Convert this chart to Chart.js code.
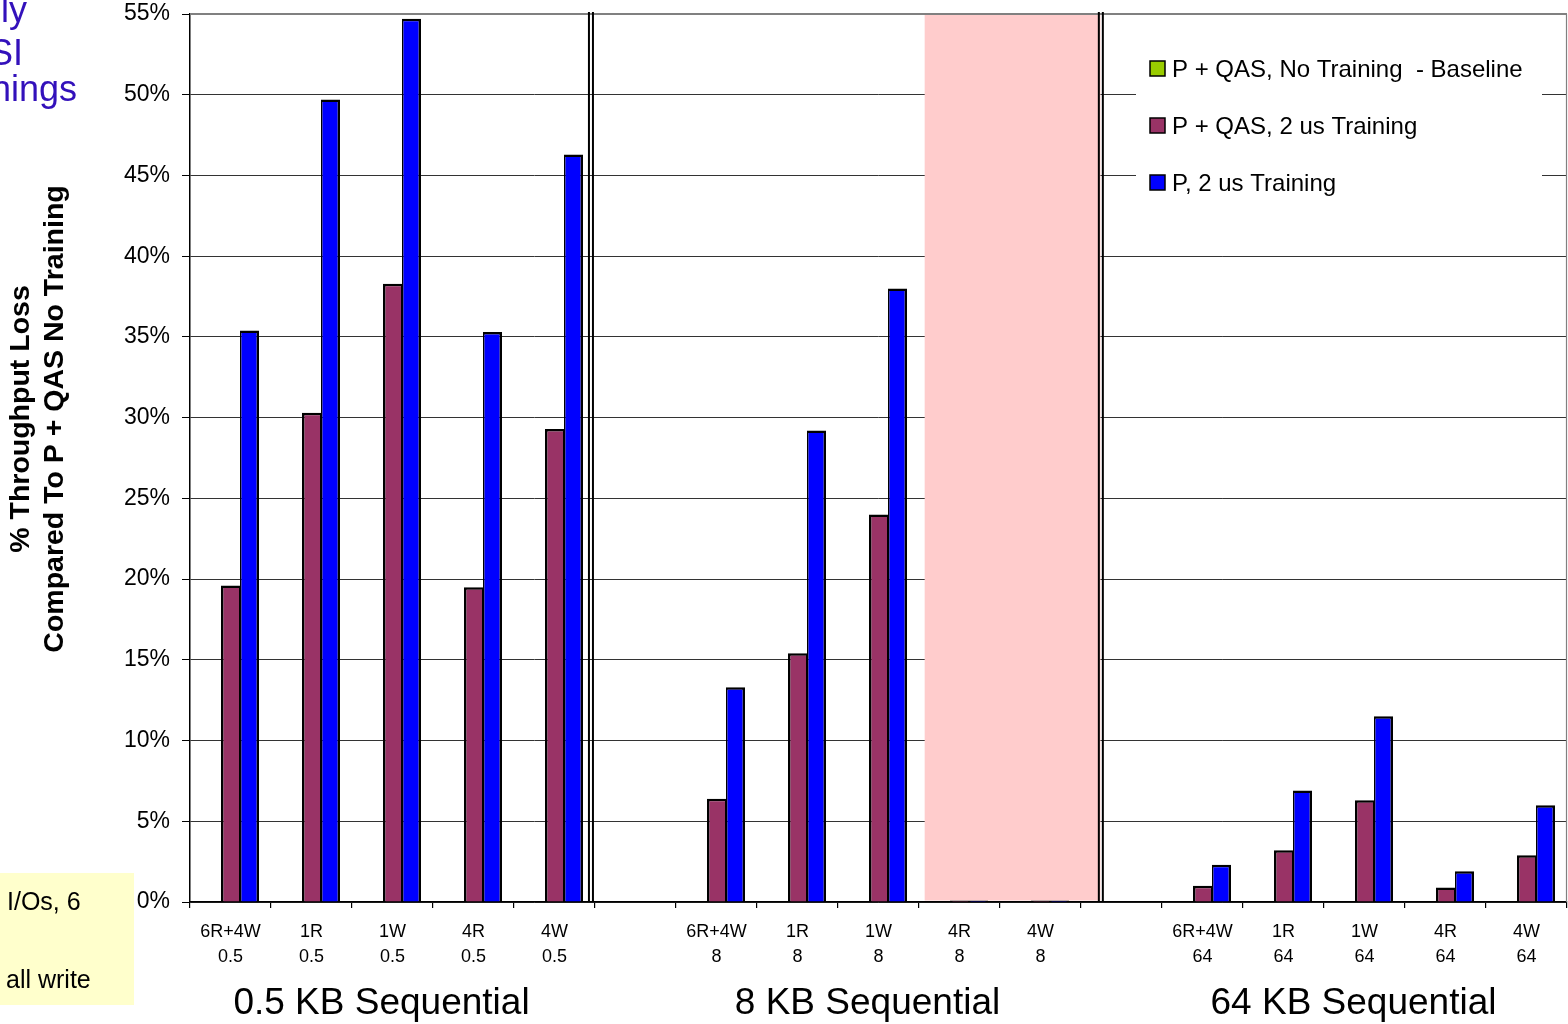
<!DOCTYPE html>
<html>
<head>
<meta charset="utf-8">
<script src="https://cdn.jsdelivr.net/npm/chart.js@4.4.1/dist/chart.umd.min.js"></script>
<style>
  html, body { margin: 0; padding: 0; background: #ffffff; overflow: hidden; }
  canvas { display: block; }
</style>
</head>
<body>
<canvas id="chart" width="1568" height="1024"></canvas>
<script>
// I/O mix and transfer size per column (blank columns separate the size groups)
const ioTypes = ['6R+4W', '1R', '1W', '4R', '4W', '', '6R+4W', '1R', '1W', '4R', '4W', '', '6R+4W', '1R', '1W', '4R', '4W'];
const ioSizes = ['0.5', '0.5', '0.5', '0.5', '0.5', '', '8', '8', '8', '8', '8', '', '64', '64', '64', '64', '64'];

// % throughput loss compared to P + QAS with no training
const baselineLoss = [0, 0, 0, 0, 0, null, 0, 0, 0, 0, 0, null, 0, 0, 0, 0, 0];
const qasTrainedLoss = [19.6, 30.3, 38.3, 19.5, 29.3, null, 6.4, 15.4, 24.0, 0.1, 0.1, null, 1.0, 3.2, 6.3, 0.9, 2.9];
const plainTrainedLoss = [35.4, 49.7, 54.7, 35.3, 46.3, null, 13.3, 29.2, 38.0, 0.1, 0.1, null, 2.3, 6.9, 11.5, 1.9, 6.0];

const seriesNames = ['P + QAS, No Training  - Baseline', 'P + QAS, 2 us Training', 'P, 2 us Training'];
const seriesColors = ['#99CC00', '#993366', '#0000FF'];

const yMin = 0, yMax = 55, yStep = 5;
const groupTitles = ['0.5 KB Sequential', '8 KB Sequential', '64 KB Sequential'];
const groupCenterColumns = [2, 8, 14];
const yTitleLines = ['% Throughput Loss', 'Compared To P + QAS No Training'];

const FONT = 'Arial, "Liberation Sans", Helvetica, sans-serif';

// Extra slide furniture: highlight band, separators, legend, titles and side notes
const decorations = {
  id: 'decorations',
  beforeDatasetsDraw(chart) {
    const { ctx, chartArea: a, scales: { x } } = chart;
    const cw = x.getPixelForValue(1) - x.getPixelForValue(0);
    const left = x.getPixelForValue(9) - 0.43 * cw;
    const right = x.getPixelForValue(10) + 0.74 * cw;
    ctx.save();
    ctx.fillStyle = '#FFCCCC';
    ctx.fillRect(left, a.top + 1, right - left, a.bottom - a.top - 2.5);
    ctx.restore();
  },
  afterDraw(chart) {
    const { ctx, chartArea: a, scales: { x } } = chart;
    const cw = x.getPixelForValue(1) - x.getPixelForValue(0);
    ctx.save();

    // frame: gray top and right edges
    ctx.strokeStyle = '#808080';
    ctx.lineWidth = 2;
    ctx.beginPath();
    ctx.moveTo(a.left, a.top); ctx.lineTo(a.right, a.top);
    ctx.stroke();
    ctx.lineWidth = 1.2;
    ctx.beginPath();
    ctx.moveTo(a.right - 0.5, a.top); ctx.lineTo(a.right - 0.5, a.bottom);
    ctx.stroke();

    // double separator lines between size groups
    const sepA = x.getPixelForValue(4) + 0.45 * cw;
    const sepB = x.getPixelForValue(10) + 0.745 * cw;
    ctx.strokeStyle = '#000';
    ctx.lineWidth = 2;
    [sepA, sepB].forEach(p => {
      [p - 2, p + 2].forEach(px => {
        ctx.beginPath();
        ctx.moveTo(px, a.top - 2); ctx.lineTo(px, a.bottom);
        ctx.stroke();
      });
    });

    // legend box
    ctx.fillStyle = '#fff';
    ctx.fillRect(1136, 40, 406, 175);
    ctx.font = '24px ' + FONT;
    ctx.textBaseline = 'middle';
    ctx.textAlign = 'left';
    seriesNames.forEach((name, i) => {
      const cy = 69 + i * 57;
      ctx.fillStyle = seriesColors[i];
      ctx.fillRect(1150, cy - 8, 15, 15);
      ctx.strokeStyle = '#000';
      ctx.lineWidth = 1.5;
      ctx.strokeRect(1150, cy - 8, 15, 15);
      ctx.fillStyle = '#000';
      ctx.fillText(name, 1172, cy + 1);
    });

    // size-group titles under the axis
    ctx.font = '37px ' + FONT;
    ctx.textAlign = 'center';
    ctx.textBaseline = 'middle';
    ctx.fillStyle = '#000';
    groupTitles.forEach((t, i) => {
      ctx.fillText(t, x.getPixelForValue(groupCenterColumns[i]) - 11, 1004);
    });

    // y axis title, two rotated lines
    ctx.font = 'bold 28.5px ' + FONT;
    ctx.save();
    ctx.translate(38, 419);
    ctx.rotate(-Math.PI / 2);
    ctx.fillText(yTitleLines[0], 0, -17);
    ctx.fillText(yTitleLines[1], 0, 17);
    ctx.restore();

    // slide text at the left edge
    ctx.fillStyle = '#3311BB';
    ctx.font = '36px ' + FONT;
    ctx.textAlign = 'right';
    ctx.textBaseline = 'alphabetic';
    ctx.fillText('ly', 27, 22);
    ctx.fillText('SI', 23, 65);
    ctx.fillText('nings', 77, 101);

    // yellow note box
    ctx.fillStyle = '#FFFFCC';
    ctx.fillRect(0, 873, 134, 132);
    ctx.fillStyle = '#000';
    ctx.font = '25px ' + FONT;
    ctx.textAlign = 'left';
    ctx.fillText('I/Os, 6', 7, 910);
    ctx.fillText('all write', 6, 988);

    ctx.restore();
  }
};

const yTickValues = [];
for (let v = yMin; v <= yMax; v += yStep) yTickValues.push(v);

new Chart(document.getElementById('chart'), {
  type: 'bar',
  data: {
    labels: ioTypes.map((t, i) => t ? [t, ioSizes[i]] : ''),
    datasets: [
      { label: seriesNames[0], data: baselineLoss, backgroundColor: seriesColors[0],
        borderColor: '#000', borderWidth: 0 },
      { label: seriesNames[1], data: qasTrainedLoss, backgroundColor: seriesColors[1],
        borderColor: '#000', borderWidth: { left: 2.5, right: 1, top: 2.5, bottom: 0 } },
      { label: seriesNames[2], data: plainTrainedLoss, backgroundColor: seriesColors[2],
        borderColor: '#000', borderWidth: { left: 1.5, right: 2.5, top: 2.5, bottom: 0 } }
    ]
  },
  options: {
    responsive: false,
    animation: false,
    events: [],
    layout: { padding: { left: 0, right: 1, top: 14, bottom: 0 } },
    datasets: { bar: { categoryPercentage: 57 / 81, barPercentage: 1.0 } },
    plugins: { legend: { display: false }, tooltip: { enabled: false }, title: { display: false } },
    scales: {
      x: {
        afterFit(s) { s.height = 122; s.paddingLeft = 0; s.paddingRight = 0; },
        grid: { offset: true, drawOnChartArea: false, drawTicks: true, tickLength: 6,
                tickColor: '#000', lineWidth: 1.2 },
        border: { color: '#000', width: 1.5 },
        ticks: { color: '#000', font: { family: FONT, size: 18, lineHeight: 1.4 }, padding: 11,
                 maxRotation: 0, autoSkip: false }
      },
      y: {
        min: yMin, max: yMax,
        afterFit(s) { s.width = 190; s.paddingTop = 0; s.paddingBottom = 0; },
        afterBuildTicks(s) { s.ticks = yTickValues.map(v => ({ value: v })); },
        grid: { color: '#333', lineWidth: 1, tickLength: 8, tickColor: '#000' },
        border: { color: '#000', width: 1.5 },
        ticks: { color: '#000', font: { family: FONT, size: 23 }, padding: 12,
                 callback: v => v + '%' }
      }
    }
  },
  plugins: [decorations]
});
</script>
</body>
</html>
